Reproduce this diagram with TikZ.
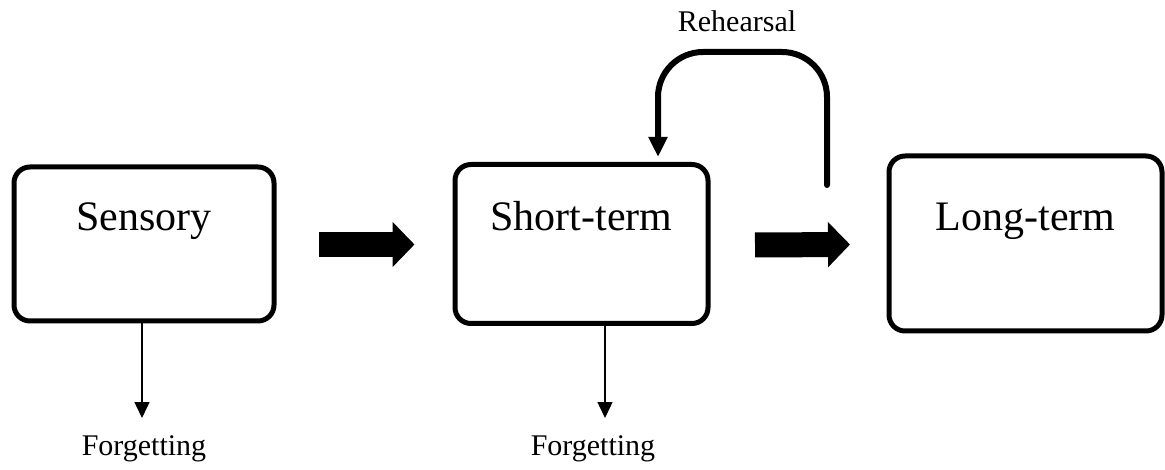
\documentclass[tikz,border=0pt]{standalone}
\usepackage{fontspec}
\setmainfont{Liberation Serif}
\usetikzlibrary{arrows.meta}
\begin{document}
\begin{tikzpicture}[x=1pt,y=-1pt,
  membox/.style={draw, line width=5pt, rounded corners=16pt, inner sep=0pt,
    font=\fontsize{42}{50}\selectfont, text height=30pt, text depth=56pt},
  blockarrow/.style={line width=25pt, -{Triangle[width=44pt,length=22pt]}},
  forget/.style={line width=1.5pt, -{Triangle[width=15pt,length=16pt]}},
  rehearse/.style={line width=6pt, line cap=round, rounded corners=45pt, -{Triangle[width=18pt,length=20pt]}},
  smalltext/.style={font=\fontsize{30}{36}\selectfont, inner sep=0pt, anchor=base}]
\useasboundingbox (0,0) rectangle (1165,470);
% memory stores
\node[membox, minimum width=260pt, minimum height=154pt] (s) at (144,244) {Sensory};
\node[membox, minimum width=253pt, minimum height=159pt] (st) at (581.5,244) {Short-term};
\node[membox, minimum width=273pt, minimum height=175pt] (lt) at (1025.5,243.5) {Long-term};
% block arrows
\draw[blockarrow] ([xshift=42.5pt,yshift=-0.5pt]s.east) -- ([xshift=-38pt,yshift=-0.5pt]st.west);
\draw[blockarrow] ([xshift=44.5pt,yshift=-1pt]st.east) -- ([xshift=-36.5pt,yshift=-1pt]lt.west);
% forgetting
\node[smalltext] (f1) at (144,455) {Forgetting};
\node[smalltext] (f2) at (593,455) {Forgetting};
\coordinate (t1) at (142,418);
\coordinate (t2) at (605,418);
\draw[forget] (s.south -| t1) -- (t1);
\draw[forget] (st.south -| t2) -- (t2);
% rehearsal loop
\node[smalltext] (r) at (737,32) {Rehearsal};
\coordinate (r0) at (827,185);
\coordinate (r1) at (658,157);
\draw[rehearse] (r0) -- (r0 |- 0,52) -- (r1 |- 0,52) -- (r1);
\end{tikzpicture}
\end{document}
